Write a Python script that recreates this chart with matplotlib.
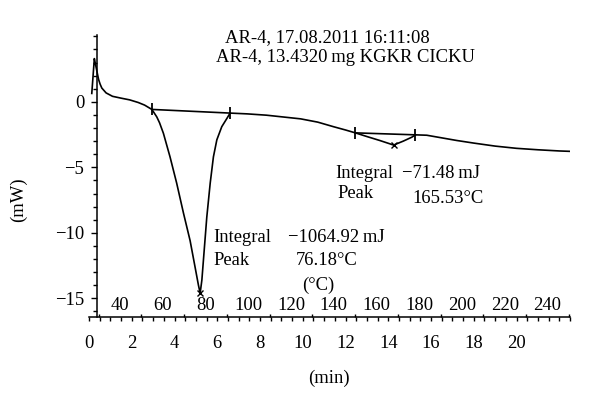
import matplotlib.pyplot as plt
from matplotlib.ticker import MultipleLocator, FixedLocator

plt.rcParams['font.family'] = ['Liberation Serif', 'DejaVu Serif']
plt.rcParams['font.size'] = 13.4

# DSC heat flow curve, time in min, heat flow in mW
time_min = [0.13, 0.25, 0.30, 0.39, 0.45, 0.52, 0.60, 0.80, 1.10, 1.50, 1.90, 2.30, 2.60, 2.94,
            3.05, 3.17, 3.30, 3.48, 3.79, 4.10, 4.42, 4.73, 4.96, 5.12, 5.20,
            5.28, 5.39, 5.51, 5.67, 5.82, 5.98, 6.21, 6.45, 6.60,
            7.40, 8.30, 9.90, 10.70, 11.44, 12.00, 12.46,
            13.00, 13.60, 14.25, 14.70, 15.10, 15.27,
            15.80, 16.50, 17.20, 18.00, 19.00, 20.00, 21.00, 22.00, 22.50]
heat_mw = [0.64, 3.30, 2.90, 2.17, 1.70, 1.35, 1.05, 0.68, 0.42, 0.28, 0.15, -0.05, -0.25, -0.58,
           -0.85, -1.15, -1.60, -2.40, -4.20, -6.20, -8.50, -10.60, -12.60, -14.00, -14.60,
           -13.60, -11.30, -8.80, -6.20, -4.20, -2.90, -1.90, -1.27, -0.86,
           -0.92, -1.02, -1.30, -1.55, -1.90, -2.15, -2.37,
           -2.65, -2.95, -3.30, -3.00, -2.70, -2.52,
           -2.55, -2.75, -2.95, -3.15, -3.38, -3.55, -3.66, -3.75, -3.78]

# integration limits and peaks
limit_t = [2.94, 6.60, 12.46, 15.27]
limit_v = [-0.58, -0.86, -2.37, -2.52]
peak_t = [5.20, 14.25]
peak_v = [-14.60, -3.30]

temp_ticks = [40, 60, 80, 100, 120, 140, 160, 180, 200, 220, 240]


def t2T(t):
    return 25.5 + 10.0 * t


def T2t(T):
    return (T - 25.5) / 10.0


fig = plt.figure(figsize=(6, 3.97), dpi=100)
ax = fig.add_axes([89 / 600, 1 - 316.7 / 397, (570 - 89) / 600, (316.7 - 35) / 397])

ax.plot(time_min, heat_mw, color='black', lw=1.2)
# baselines
ax.plot(limit_t[:2], limit_v[:2], color='black', lw=1.2)
ax.plot(limit_t[2:], limit_v[2:], color='black', lw=1.2)
ax.plot(limit_t, limit_v, ls='none', marker='|', ms=9, mew=1.3, color='black')
ax.plot(peak_t, peak_v, ls='none', marker='x', ms=4, mew=1.0, color='black')

ax.set_xlim(0, 22.5)
ax.set_ylim(-16.4, 5.1)

for s in ['top', 'right']:
    ax.spines[s].set_visible(False)
ax.spines['left'].set_position(('data', 0.36))
ax.spines['left'].set_linewidth(1.1)
ax.spines['bottom'].set_linewidth(1.1)

ax.xaxis.set_minor_locator(MultipleLocator(0.5))
ax.set_xticks([0, 2, 4, 6, 8, 10, 12, 14, 16, 18, 20])
ax.yaxis.set_major_locator(FixedLocator([0, -5, -10, -15]))
ax.yaxis.set_minor_locator(MultipleLocator(1))
ax.tick_params(axis='x', which='both', direction='out', length=3, width=1.0, pad=10)
ax.tick_params(axis='y', which='major', direction='out', length=4, width=1.0, pad=5)
ax.tick_params(axis='y', which='minor', direction='out', length=3, width=1.0)

# temperature scale drawn inside, just above the time axis
sec = ax.secondary_xaxis(0.0, functions=(t2T, T2t))
sec.set_alignment('top')
sec.set_xticks(temp_ticks)
sec.xaxis.set_minor_locator(MultipleLocator(10))
sec.tick_params(axis='x', which='major', length=0, pad=2)
sec.tick_params(axis='x', which='minor', direction='out', length=2.5, width=1.0)
sec.spines['top'].set_visible(False)

ax.text(5.81, -10.33, 'Integral', va='center', ha='left')
ax.text(9.32, -10.33, '\u22121064.92\u2009mJ', va='center', ha='left')
ax.text(5.81, -12.1, 'Peak', va='center', ha='left')
ax.text(9.65, -12.1, '76.18\u00b0C', va='center', ha='left')
ax.text(10.73, -14.0, '(\u00b0C)', va='center', ha='center')
ax.text(11.52, -5.44, 'Integral', va='center', ha='left')
ax.text(14.66, -5.44, '\u221271.48\u2009mJ', va='center', ha='left')
ax.text(11.62, -6.98, 'Peak', va='center', ha='left')
ax.text(15.13, -7.35, '165.53\u00b0C', va='center', ha='left')

fig.text(225 / 600, 1 - 38 / 397, 'AR-4, 17.08.2011 16:11:08', va='center', ha='left')
fig.text(216 / 600, 1 - 58 / 397, 'AR-4, 13.4320\u2009mg KGKR CICKU', va='center', ha='left')
fig.text(18 / 600, 1 - 200 / 397, '(mW)', rotation=90, va='center', ha='center')
fig.text(329 / 600, 1 - 378 / 397, '(min)', va='center', ha='center')

fig.savefig('out.png', dpi=100)
